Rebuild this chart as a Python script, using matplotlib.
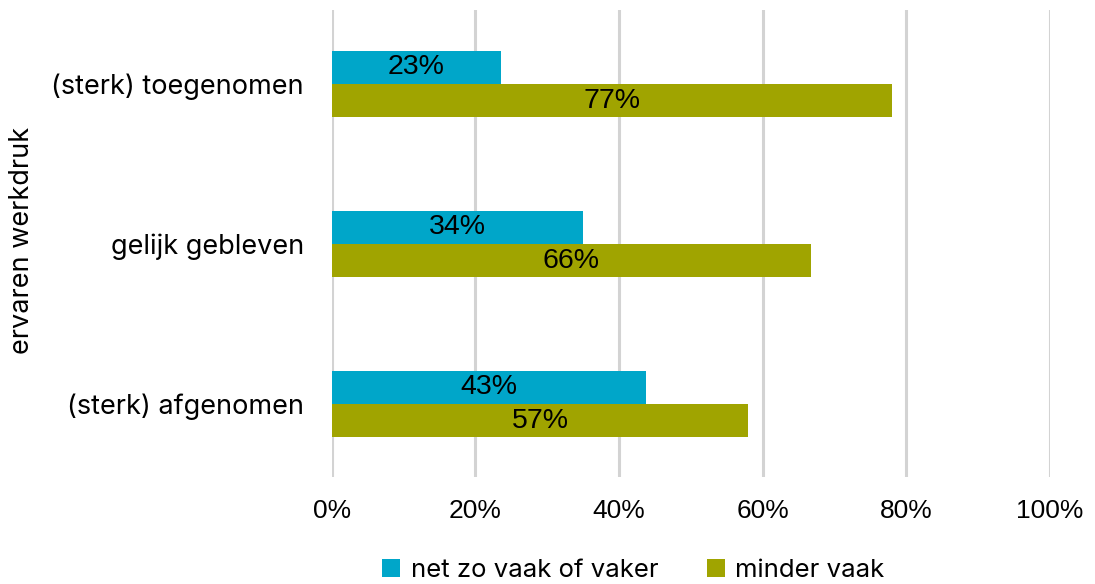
import numpy as np
import matplotlib.pyplot as plt

categories = ['(sterk) toegenomen', 'gelijk gebleven', '(sterk) afgenomen']
series = ['net zo vaak of vaker', 'minder vaak']
vaker = [23.6, 35.0, 43.8]
minder = [78.0, 66.7, 58.0]
vaker_labels = ['23%', '34%', '43%']
minder_labels = ['77%', '66%', '57%']
ticks = [0, 20, 40, 60, 80, 100]
tick_labels = ['0%', '20%', '40%', '60%', '80%', '100%']

blue = '#00A6C9'
olive = '#A0A400'

fig = plt.figure(figsize=(10.95, 5.84), dpi=100)
ax = fig.add_axes([0.303, 0.183, 0.656, 0.8])

y = np.arange(len(categories))
h = 0.205
ax.barh(y - 0.104, vaker, height=h, color=blue, label=series[0], zorder=3)
ax.barh(y + 0.104, minder, height=h, color=olive, label=series[1], zorder=3)

for i in range(len(categories)):
    ax.text(vaker[i] / 2, y[i] - 0.104, vaker_labels[i], ha='center', va='center',
            fontsize=20.5, family='Liberation Sans', zorder=4)
    ax.text(minder[i] / 2, y[i] + 0.104, minder_labels[i], ha='center', va='center',
            fontsize=20.5, family='Liberation Sans', zorder=4)

ax.set_xlim(0, 100)
ax.set_ylim(2.456, -0.4625)
ax.set_xticks(ticks)
ax.set_xticklabels(tick_labels, family='Liberation Sans', fontsize=19)
ax.set_yticks(y)
ax.set_yticklabels(categories, family='Inter', fontsize=19.5)
ax.tick_params(length=0)
ax.tick_params(axis='x', pad=16)
ax.tick_params(axis='y', pad=20)
ax.grid(axis='x', color='#D3D3D3', linewidth=2.2, zorder=0)
for s in ax.spines.values():
    s.set_visible(False)

fig.text(0.02, 0.589, 'ervaren werkdruk', rotation=90, ha='center', va='center',
         family='Inter', fontsize=19.5)

ax.legend(loc='center', bbox_to_anchor=(0.42, -0.2), ncol=2, frameon=False,
          prop={'family': 'Inter', 'size': 18.5}, handlelength=0.7, handleheight=0.7,
          handletextpad=0.4, columnspacing=1.9, borderaxespad=0)

plt.savefig('out.png', dpi=100)
